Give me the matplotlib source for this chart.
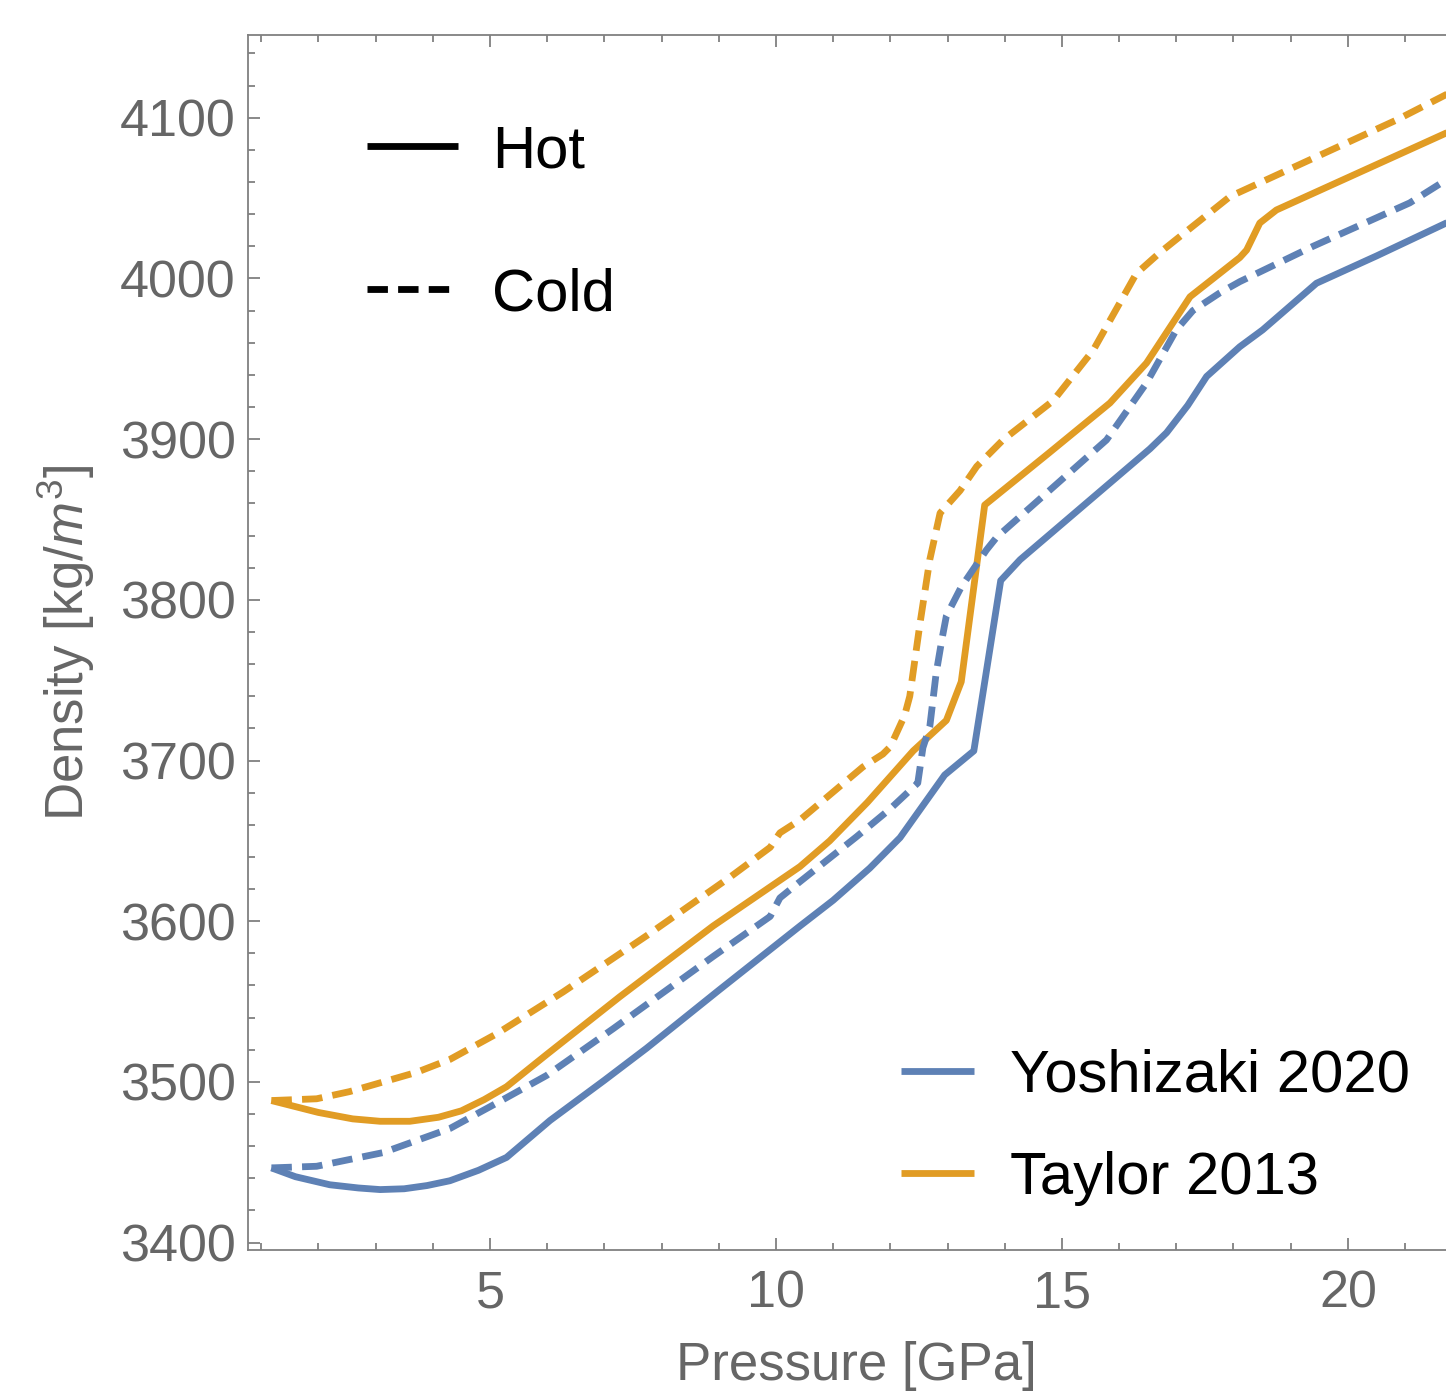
import matplotlib
matplotlib.use("Agg")
import matplotlib.pyplot as plt
from matplotlib.lines import Line2D

plt.rcParams['font.family'] = ['Liberation Sans', 'DejaVu Sans']
plt.rcParams['mathtext.fontset'] = 'custom'
plt.rcParams['mathtext.rm'] = 'Liberation Sans'
plt.rcParams['mathtext.it'] = 'Liberation Sans:italic'

# pressure [GPa] / density [kg/m^3]
yoshi_hot_p = [1.18, 1.6, 2.2, 2.7, 3.08, 3.5, 3.9, 4.3, 4.8, 5.29, 6.05, 7.0, 7.74, 9.0,
               10.42, 11.0, 11.64, 12.17, 12.43, 12.95, 13.46, 13.93, 14.27, 16.54,
               16.83, 17.2, 17.53, 18.11, 18.51, 19.45, 20.5, 21.75]
yoshi_hot_rho = [3446.5, 3441, 3436, 3434, 3433, 3433.5, 3435.5, 3438.5, 3445, 3453,
                 3476, 3501, 3521, 3557, 3597, 3613, 3633, 3652, 3665, 3691, 3706, 3812,
                 3825, 3894, 3904, 3921, 3939, 3957.5, 3968, 3997, 4014, 4035]

yoshi_cold_p = [1.18, 1.97, 3.13, 4.30, 5.23, 5.99, 7.15, 8.9, 9.9, 10.07, 10.42, 11.41,
                12.0, 12.48, 12.57, 12.69, 12.8, 12.9, 12.98, 13.24, 13.68, 13.86,
                15.78, 16.48, 17.0, 17.29, 17.76, 18.11, 19.39, 21.08, 21.75]
yoshi_cold_rho = [3446.5, 3447.5, 3456, 3471, 3489, 3504, 3533, 3578, 3603, 3614.5,
                  3624.6, 3652.6, 3670, 3686, 3708, 3721, 3754, 3775, 3790, 3808, 3831,
                  3839, 3899.5, 3935, 3968, 3980, 3991, 3998, 4020, 4047, 4062]

taylor_hot_p = [1.18, 2.0, 2.6, 3.08, 3.6, 4.1, 4.5, 4.9, 5.29, 5.99, 7.27, 8.9, 10.42,
                10.94, 11.6, 12.4, 12.98, 13.24, 13.65, 14.76, 15.84, 16.48, 17.24,
                18.11, 18.23, 18.46, 18.75, 21.75]
taylor_hot_rho = [3488.4, 3481, 3477, 3475.5, 3475.5, 3478, 3482, 3489, 3497, 3517,
                  3553, 3597, 3634, 3650, 3674, 3706, 3725, 3749, 3859, 3891, 3922.5,
                  3947.4, 3988.6, 4013, 4017.7, 4034.5, 4042.6, 4091]

taylor_cold_p = [1.18, 1.97, 2.55, 3.72, 4.3, 5.12, 6.28, 7.74, 9.2, 9.9, 10.07, 10.42,
                 11.52, 11.87, 12.0, 12.25, 12.34, 12.52, 12.69, 12.87, 13.22, 13.51,
                 13.97, 14.85, 15.55, 16.3, 16.71, 17.06, 17.94, 20.85, 21.75]
taylor_cold_rho = [3488.4, 3489.5, 3494, 3506, 3514, 3530, 3556, 3591, 3627.5, 3646,
                   3655, 3663, 3696, 3704, 3708.6, 3728, 3740, 3785.6, 3825, 3854, 3868,
                   3883, 3899.5, 3924, 3955.5, 4003, 4016, 4026, 4051, 4098.6, 4115]

blue = '#5E81B5'
orange = '#E19C24'
gray = '#808080'
label_gray = '#666666'
lw = 4.9
dash = (0, (3.0, 1.5))

fig = plt.figure(figsize=(14.46, 13.94), dpi=100)
ax = fig.add_axes([248 / 1446, 1 - 1250 / 1394, (1464 - 248) / 1446, (1250 - 35) / 1394])

ax.plot(yoshi_hot_p, yoshi_hot_rho, color=blue, lw=lw, solid_capstyle='butt')
ax.plot(taylor_hot_p, taylor_hot_rho, color=orange, lw=lw, solid_capstyle='butt')
ax.plot(yoshi_cold_p, yoshi_cold_rho, color=blue, lw=lw, ls=dash, dash_capstyle='butt')
ax.plot(taylor_cold_p, taylor_cold_rho, color=orange, lw=lw, ls=dash, dash_capstyle='butt')

ax.set_xlim(0.77, 22.03)
ax.set_ylim(3395.4, 4151.5)

ax.set_xticks([5, 10, 15, 20])
ax.set_xticks(range(1, 23), minor=True)
ax.set_yticks(range(3400, 4101, 100))
ax.set_yticks(range(3400, 4141, 20), minor=True)

for side in ['left', 'bottom', 'top']:
    ax.spines[side].set_color(gray)
    ax.spines[side].set_linewidth(1.3)
ax.spines['right'].set_visible(False)

ax.tick_params(which='both', direction='in', color=gray, width=1.3,
               top=True, right=False, labelcolor=label_gray, labelsize=37.5)
ax.tick_params(which='major', length=8.6)
ax.tick_params(which='minor', length=5)
ax.tick_params(axis='x', pad=14)
ax.tick_params(axis='y', pad=9)

ax.set_xlabel('Pressure [GPa]', fontsize=38, color=label_gray, labelpad=16)
ax.set_ylabel('Density [kg/$m^3$]', fontsize=38, color=label_gray, labelpad=16)

# line style legend
style_handles = [Line2D([], [], color='black', lw=lw, solid_capstyle='butt'),
                 Line2D([], [], color='black', lw=lw, ls=dash, dash_capstyle='butt')]
leg1 = ax.legend(style_handles, ['Hot', 'Cold'], loc='upper left',
                 bbox_to_anchor=((367 - 248) / 1216, 1 - (124 - 35) / 1215),
                 frameon=False, fontsize=43, handlelength=1.52, handletextpad=0.57,
                 labelspacing=1.48, borderpad=0, borderaxespad=0)
ax.add_artist(leg1)

# source legend
src_handles = [Line2D([], [], color=blue, lw=lw, solid_capstyle='butt'),
               Line2D([], [], color=orange, lw=lw, solid_capstyle='butt')]
ax.legend(src_handles, ['Yoshizaki 2020', 'Taylor 2013'], loc='upper left',
          bbox_to_anchor=((901 - 248) / 1216, 1 - (1049 - 35) / 1215),
          frameon=False, fontsize=43, handlelength=1.22, handletextpad=0.6,
          labelspacing=0.79, borderpad=0, borderaxespad=0)

fig.savefig('out.png', dpi=100)
